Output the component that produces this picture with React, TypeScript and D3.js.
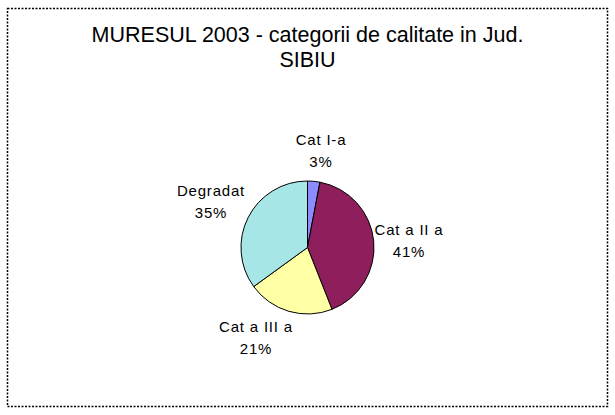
import React from "react";
import * as d3 from "d3";

const categories = ["Cat I-a", "Cat a II a", "Cat a III a", "Degradat"];
const values = [3, 41, 21, 35];
const colors = ["#8c8cff", "#8e1f5c", "#ffffa6", "#a6e6e6"];
const titleLines = ["MURESUL 2003 - categorii de calitate in Jud.", "SIBIU"];
const labelPos: [number, number][] = [
  [321, 145],
  [409, 235],
  [256, 332],
  [211, 196],
];

export default function App() {
  const W = 615, H = 415;
  const cx = 307.5, cy = 247.5, r = 66.5;
  const pie = d3.pie<number>().sort(null).value((d) => d)(values);
  const arc = d3.arc<d3.PieArcDatum<number>>().innerRadius(0).outerRadius(r);
  const total = d3.sum(values);
  const font = "'Liberation Sans', Arial, sans-serif";
  return (
    <svg width={W} height={H} style={{ position: "absolute", left: 0, top: 0 }}>
      <rect x={0} y={0} width={W} height={H} fill="#fff" />
      <rect x={7.5} y={8.5} width={600} height={398} fill="none" stroke="#000" strokeWidth={1.5} strokeDasharray="2 1.5" />
      <text x={W / 2} y={42} textAnchor="middle" fontFamily={font} fontSize={21.5} fill="#000">{titleLines[0]}</text>
      <text x={W / 2} y={67} textAnchor="middle" fontFamily={font} fontSize={21.5} fill="#000">{titleLines[1]}</text>
      <g transform={`translate(${cx},${cy})`}>
        {pie.map((p, i) => (
          <path key={i} d={arc(p) || ""} fill={colors[i]} stroke="#000" strokeWidth={1} />
        ))}
      </g>
      {categories.map((c, i) => (
        <g key={c}>
          <text x={labelPos[i][0]} y={labelPos[i][1]} textAnchor="middle" fontFamily={font} fontSize={15} letterSpacing={0.8} fill="#000">{c}</text>
          <text x={labelPos[i][0]} y={labelPos[i][1] + 21.5} textAnchor="middle" fontFamily={font} fontSize={15} letterSpacing={0.8} fill="#000">{`${Math.round((values[i] / total) * 100)}%`}</text>
        </g>
      ))}
    </svg>
  );
}
